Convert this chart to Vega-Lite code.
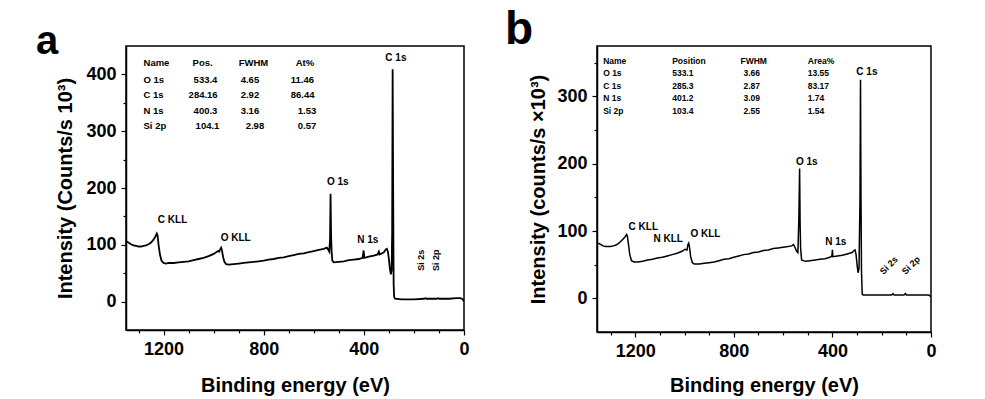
{
  "$schema": "https://vega.github.io/schema/vega-lite/v6.json",
  "padding": {"left": 35, "top": 6, "right": 5, "bottom": 0},
  "spacing": 34,
  "background": "white",
  "config": {
    "font": "Liberation Sans",
    "view": {"stroke": "black", "strokeWidth": 1.5},
    "axis": {
      "grid": false,
      "domainColor": "black",
      "domainWidth": 1.5,
      "tickColor": "black",
      "tickWidth": 1.2,
      "format": "d",
      "labelFont": "Liberation Sans",
      "labelFontWeight": "bold",
      "labelFontSize": 18,
      "labelColor": "black",
      "titleFont": "Liberation Sans",
      "titleFontWeight": "bold",
      "titleFontSize": 20,
      "titleColor": "black"
    },
    "title": {"font": "Liberation Sans", "fontWeight": "bold", "color": "black", "anchor": "start", "frame": "group", "baseline": "alphabetic"}
  },
  "datasets": {
    "specA": [
      {"e":1350,"i":106},{"e":1340,"i":104},{"e":1330,"i":101},{"e":1320,"i":99},{"e":1310,"i":98},{"e":1300,"i":97},{"e":1290,"i":97},{"e":1280,"i":98},{"e":1270,"i":99},{"e":1260,"i":101},{"e":1250,"i":104},{"e":1240,"i":109},{"e":1232,"i":115},{"e":1227,"i":120},{"e":1224,"i":117},{"e":1220,"i":100},{"e":1214,"i":82},{"e":1208,"i":72},{"e":1200,"i":68},{"e":1190,"i":67},{"e":1180,"i":68},{"e":1160,"i":68},{"e":1140,"i":69},{"e":1120,"i":70},{"e":1100,"i":71},{"e":1080,"i":73},{"e":1060,"i":75},{"e":1040,"i":77},{"e":1020,"i":80},{"e":1000,"i":84},{"e":990,"i":87},{"e":982,"i":89},{"e":978,"i":88},{"e":974,"i":92},{"e":970,"i":95},{"e":967,"i":91},{"e":962,"i":78},{"e":957,"i":70},{"e":950,"i":66},{"e":940,"i":65},{"e":920,"i":66},{"e":900,"i":67},{"e":880,"i":68},{"e":860,"i":69},{"e":840,"i":70},{"e":820,"i":71},{"e":800,"i":72},{"e":780,"i":74},{"e":760,"i":75},{"e":740,"i":77},{"e":720,"i":78},{"e":700,"i":80},{"e":680,"i":82},{"e":660,"i":84},{"e":640,"i":85},{"e":620,"i":87},{"e":600,"i":89},{"e":580,"i":91},{"e":560,"i":93},{"e":548,"i":95},{"e":543,"i":92},{"e":538,"i":88},{"e":535,"i":110},{"e":533,"i":190},{"e":531,"i":120},{"e":529,"i":90},{"e":526,"i":72},{"e":520,"i":69},{"e":500,"i":70},{"e":480,"i":71},{"e":460,"i":73},{"e":440,"i":74},{"e":420,"i":75},{"e":405,"i":77},{"e":401,"i":90},{"e":398,"i":77},{"e":380,"i":79},{"e":360,"i":81},{"e":345,"i":83},{"e":340,"i":88},{"e":337,"i":83},{"e":320,"i":87},{"e":312,"i":92},{"e":308,"i":93},{"e":304,"i":88},{"e":300,"i":75},{"e":296,"i":58},{"e":292,"i":48},{"e":289,"i":55},{"e":287,"i":120},{"e":285,"i":409},{"e":283,"i":200},{"e":281,"i":30},{"e":279,"i":8},{"e":275,"i":5},{"e":250,"i":4},{"e":200,"i":4},{"e":160,"i":5},{"e":153,"i":6},{"e":150,"i":5},{"e":110,"i":5},{"e":104,"i":6},{"e":100,"i":5},{"e":60,"i":5},{"e":30,"i":6},{"e":15,"i":6},{"e":8,"i":5},{"e":4,"i":3},{"e":0,"i":1}
    ],
    "specB": [
      {"e":1350,"i":82},{"e":1340,"i":80},{"e":1330,"i":78},{"e":1320,"i":77},{"e":1310,"i":77},{"e":1300,"i":77},{"e":1290,"i":78},{"e":1280,"i":79},{"e":1270,"i":81},{"e":1260,"i":84},{"e":1250,"i":88},{"e":1240,"i":92},{"e":1235,"i":95},{"e":1232,"i":93},{"e":1228,"i":82},{"e":1222,"i":65},{"e":1215,"i":56},{"e":1205,"i":54},{"e":1190,"i":54},{"e":1170,"i":55},{"e":1150,"i":57},{"e":1130,"i":58},{"e":1110,"i":60},{"e":1090,"i":61},{"e":1070,"i":63},{"e":1050,"i":65},{"e":1030,"i":67},{"e":1010,"i":70},{"e":998,"i":73},{"e":990,"i":72},{"e":986,"i":80},{"e":983,"i":82},{"e":980,"i":77},{"e":975,"i":62},{"e":968,"i":53},{"e":960,"i":51},{"e":940,"i":51},{"e":920,"i":52},{"e":900,"i":53},{"e":880,"i":54},{"e":860,"i":56},{"e":840,"i":58},{"e":820,"i":59},{"e":800,"i":61},{"e":780,"i":63},{"e":760,"i":65},{"e":740,"i":66},{"e":720,"i":68},{"e":700,"i":69},{"e":680,"i":71},{"e":660,"i":72},{"e":640,"i":74},{"e":620,"i":75},{"e":600,"i":76},{"e":580,"i":77},{"e":565,"i":78},{"e":558,"i":80},{"e":552,"i":76},{"e":545,"i":70},{"e":540,"i":68},{"e":536,"i":120},{"e":533,"i":193},{"e":531,"i":110},{"e":529,"i":75},{"e":525,"i":57},{"e":510,"i":55},{"e":490,"i":56},{"e":470,"i":57},{"e":450,"i":58},{"e":430,"i":59},{"e":410,"i":61},{"e":402,"i":63},{"e":400,"i":72},{"e":398,"i":62},{"e":380,"i":63},{"e":360,"i":64},{"e":340,"i":66},{"e":320,"i":68},{"e":312,"i":71},{"e":308,"i":72},{"e":304,"i":65},{"e":300,"i":50},{"e":296,"i":38},{"e":292,"i":45},{"e":288,"i":150},{"e":286,"i":325},{"e":284,"i":150},{"e":282,"i":40},{"e":279,"i":6},{"e":275,"i":5},{"e":250,"i":5},{"e":200,"i":5},{"e":160,"i":5},{"e":154,"i":7},{"e":150,"i":5},{"e":110,"i":5},{"e":104,"i":7},{"e":100,"i":5},{"e":60,"i":5},{"e":30,"i":5},{"e":10,"i":5},{"e":5,"i":4},{"e":0,"i":2}
    ],
    "labA": [
      {"e":272,"i":428,"t":"C 1s"},{"e":504,"i":210,"t":"O 1s"},{"e":1164,"i":144,"t":"C KLL"},{"e":912,"i":112,"t":"O KLL"},{"e":384,"i":109,"t":"N 1s"}
    ],
    "rotA": [
      {"e":172,"i":73,"t":"Si 2s"},{"e":112,"i":73,"t":"Si 2p"}
    ],
    "labB": [
      {"e":260,"i":337,"t":"C 1s"},{"e":504,"i":203,"t":"O 1s"},{"e":1167,"i":106,"t":"C KLL"},{"e":1066,"i":88,"t":"N KLL"},{"e":915,"i":95,"t":"O KLL"},{"e":386,"i":84,"t":"N 1s"}
    ],
    "rotB": [
      {"e":171,"i":49,"t":"Si 2s"},{"e":81,"i":49,"t":"Si 2p"}
    ],
    "tabA": [
      {"e":1280,"i":420,"t":"Name"},{"e":1084,"i":420,"t":"Pos."},{"e":900,"i":420,"t":"FWHM"},{"e":672,"i":420,"t":"At%"},
      {"e":1280,"i":391,"t":"O 1s"},{"e":1080,"i":391,"t":"533.4"},{"e":892,"i":391,"t":"4.65"},{"e":692,"i":391,"t":"11.46"},
      {"e":1280,"i":363,"t":"C 1s"},{"e":1100,"i":363,"t":"284.16"},{"e":892,"i":363,"t":"2.92"},{"e":692,"i":363,"t":"86.44"},
      {"e":1280,"i":336,"t":"N 1s"},{"e":1080,"i":336,"t":"400.3"},{"e":892,"i":336,"t":"3.16"},{"e":664,"i":336,"t":"1.53"},
      {"e":1280,"i":309,"t":"Si 2p"},{"e":1072,"i":309,"t":"104.1"},{"e":872,"i":309,"t":"2.98"},{"e":664,"i":309,"t":"0.57"}
    ],
    "tabB": [
      {"e":1330,"i":353,"t":"Name"},{"e":1050,"i":353,"t":"Position"},{"e":773,"i":353,"t":"FWHM"},{"e":500,"i":353,"t":"Area%"},
      {"e":1330,"i":335,"t":"O 1s"},{"e":1050,"i":335,"t":"533.1"},{"e":761,"i":335,"t":"3.66"},{"e":500,"i":335,"t":"13.55"},
      {"e":1330,"i":316,"t":"C 1s"},{"e":1050,"i":316,"t":"285.3"},{"e":761,"i":316,"t":"2.87"},{"e":500,"i":316,"t":"83.17"},
      {"e":1330,"i":297,"t":"N 1s"},{"e":1050,"i":297,"t":"401.2"},{"e":761,"i":297,"t":"3.09"},{"e":500,"i":297,"t":"1.74"},
      {"e":1330,"i":279,"t":"Si 2p"},{"e":1050,"i":279,"t":"103.4"},{"e":761,"i":279,"t":"2.55"},{"e":500,"i":279,"t":"1.54"}
    ]
  },
  "hconcat": [
    {
      "title": {"text": "a", "dx": -90, "offset": -16, "fontSize": 40},
      "width": 338,
      "height": 284,
      "encoding": {
        "x": {"field": "e", "type": "quantitative", "scale": {"domain": [1350, 0], "nice": false, "zero": false},
          "axis": {"title": "Binding energy (eV)", "values": [1300,1200,1100,1000,900,800,700,600,500,400,300,200,100,0],
            "labelExpr": "datum.value % 400 === 0 ? datum.label : ''", "tickSize": {"expr": "datum.value % 400 === 0 ? 5 : 3"},
            "labelPadding": 5, "titlePadding": 17, "labelFlush": false}},
        "y": {"field": "i", "type": "quantitative", "scale": {"domain": [-50, 450], "nice": false, "zero": false},
          "axis": {"title": "Intensity (Counts/s  10³)", "values": [0,50,100,150,200,250,300,350,400],
            "labelExpr": "datum.value % 100 === 0 ? datum.label : ''", "tickSize": {"expr": "datum.value % 100 === 0 ? 5 : 3"},
            "labelPadding": 5, "titlePadding": 10}}
      },
      "layer": [
        {"data": {"name": "specA"}, "mark": {"type": "line", "color": "black", "strokeWidth": 1.8, "clip": true}},
        {"data": {"name": "labA"}, "mark": {"type": "text", "font": "Liberation Sans", "fontWeight": "bold", "fontSize": 10, "color": "black"}, "encoding": {"text": {"field": "t"}}},
        {"data": {"name": "rotA"}, "mark": {"type": "text", "font": "Liberation Sans", "fontWeight": "bold", "fontSize": 9, "color": "black", "angle": 270}, "encoding": {"text": {"field": "t"}}},
        {"data": {"name": "tabA"}, "mark": {"type": "text", "font": "Liberation Sans", "fontWeight": "bold", "fontSize": 9.5, "color": "black", "align": "left"}, "encoding": {"text": {"field": "t"}}}
      ]
    },
    {
      "title": {"text": "b", "dx": -92, "offset": -8, "fontSize": 46},
      "width": 334,
      "height": 286,
      "encoding": {
        "x": {"field": "e", "type": "quantitative", "scale": {"domain": [1355, 0], "nice": false, "zero": false},
          "axis": {"title": "Binding energy (eV)", "values": [1300,1200,1100,1000,900,800,700,600,500,400,300,200,100,0],
            "labelExpr": "datum.value % 400 === 0 ? datum.label : ''", "tickSize": {"expr": "datum.value % 400 === 0 ? 5 : 3"},
            "labelPadding": 5, "titlePadding": 15, "labelFlush": false}},
        "y": {"field": "i", "type": "quantitative", "scale": {"domain": [-50, 375], "nice": false, "zero": false},
          "axis": {"title": "Intensity (counts/s ×10³)", "values": [0,50,100,150,200,250,300,350],
            "labelExpr": "datum.value % 100 === 0 ? datum.label : ''", "tickSize": {"expr": "datum.value % 100 === 0 ? 5 : 3"},
            "labelPadding": 5, "titlePadding": 8}}
      },
      "layer": [
        {"data": {"name": "specB"}, "mark": {"type": "line", "color": "black", "strokeWidth": 1.5, "clip": true}},
        {"data": {"name": "labB"}, "mark": {"type": "text", "font": "Liberation Sans", "fontWeight": "bold", "fontSize": 10, "color": "black"}, "encoding": {"text": {"field": "t"}}},
        {"data": {"name": "rotB"}, "mark": {"type": "text", "font": "Liberation Sans", "fontWeight": "bold", "fontSize": 9, "color": "black", "angle": 315}, "encoding": {"text": {"field": "t"}}},
        {"data": {"name": "tabB"}, "mark": {"type": "text", "font": "Liberation Sans", "fontWeight": "bold", "fontSize": 8.5, "color": "black", "align": "left"}, "encoding": {"text": {"field": "t"}}}
      ]
    }
  ]
}
